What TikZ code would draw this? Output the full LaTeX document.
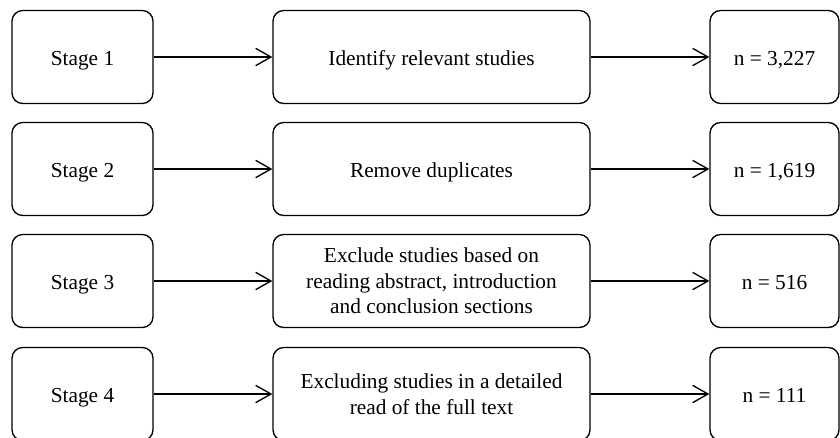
\documentclass[tikz,border=0pt]{standalone}
\usepackage{fontspec}
\setmainfont{Liberation Serif}
\usetikzlibrary{arrows.meta}
\begin{document}
\begin{tikzpicture}[x=0.75pt,y=-0.75pt,
  box/.style={draw=black, line width=1pt, rounded corners=8pt, fill=white,
    minimum height=69.75pt, inner sep=0pt, align=center,
    font=\fontsize{16pt}{19.2pt}\selectfont},
  oneline/.style={text height=15pt, text depth=2.25pt},
  stagebox/.style={box, oneline, minimum width=105.75pt},
  taskbox/.style={box, minimum width=237.75pt},
  countbox/.style={box, oneline, minimum width=96.75pt},
  conn/.style={draw=black, line width=1pt, -{Straight Barb[length=11.5pt,width=13pt]}}]
\useasboundingbox (0,0) rectangle (840,437);
\clip (0,0) rectangle (840,437);
% row 1
\node[stagebox] (s1) at (82.5,57) {Stage 1};
\node[taskbox, oneline] (t1) at (431.5,57) {Identify relevant studies};
\node[countbox] (c1) at (774.5,57) {n = 3,227};
% row 2
\node[stagebox] (s2) at (82.5,169) {Stage 2};
\node[taskbox, oneline] (t2) at (431.5,169) {Remove duplicates};
\node[countbox] (c2) at (774.5,169) {n = 1,619};
% row 3
\node[stagebox] (s3) at (82.5,281) {Stage 3};
\node[taskbox] (t3) at (431.5,281) {Exclude studies based on\\reading abstract, introduction\\and conclusion sections};
\node[countbox] (c3) at (774.5,281) {n = 516};
% row 4
\node[stagebox] (s4) at (82.5,394) {Stage 4};
\node[taskbox] (t4) at (431.5,394) {Excluding studies in a detailed\\read of the full text};
\node[countbox] (c4) at (774.5,394) {n = 111};
% connectors
\foreach \i in {1,2,3,4} {
  \draw[conn] (s\i) -- (t\i);
  \draw[conn] (t\i) -- (c\i);
}
\end{tikzpicture}
\end{document}
